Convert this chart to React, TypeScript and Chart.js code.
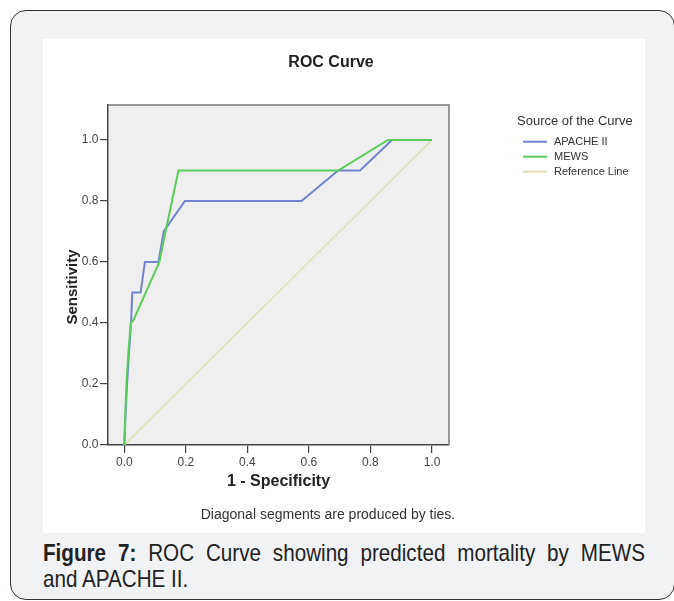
import React, { useEffect, useRef } from "react";
import { Chart, registerables } from "chart.js";

Chart.register(...registerables);

const chartTitle = "ROC Curve";
const legendTitle = "Source of the Curve";
const footnote = "Diagonal segments are produced by ties.";
const xAxisTitle = "1 - Specificity";
const yAxisTitle = "Sensitivity";
const tickValues = [0, 0.2, 0.4, 0.6, 0.8, 1.0];
const seriesNames = ["APACHE II", "MEWS", "Reference Line"];
const seriesColors = ["#7285cc", "#5ccc5c", "#e1dfb3"];

const apacheFpr = [0, 0.004, 0.009, 0.015, 0.022, 0.026, 0.053, 0.067, 0.111, 0.128, 0.197, 0.576, 0.695, 0.766, 0.870, 1.0];
const apacheTpr = [0, 0.1, 0.2, 0.3, 0.4, 0.5, 0.5, 0.6, 0.6, 0.7, 0.8, 0.8, 0.9, 0.9, 1.0, 1.0];
const mewsFpr = [0, 0.003, 0.007, 0.013, 0.021, 0.03, 0.114, 0.134, 0.176, 0.695, 0.857, 1.0];
const mewsTpr = [0, 0.1, 0.2, 0.3, 0.4, 0.41, 0.6, 0.7, 0.9, 0.9, 1.0, 1.0];
const refFpr = [0, 1];
const refTpr = [0, 1];

const FONT = '"Liberation Sans", Arial, Helvetica, sans-serif';

const pts = (xs: number[], ys: number[]) => xs.map((x, i) => ({ x, y: ys[i] }));

const decor = {
  id: "decor",
  beforeDraw(chart: any) {
    const { ctx, chartArea: a } = chart;
    ctx.save();
    ctx.fillStyle = "#efefef";
    ctx.fillRect(a.left, a.top, a.right - a.left, a.bottom - a.top);
    ctx.restore();
  },
  beforeDatasetsDraw(chart: any) {
    const { ctx, chartArea: a } = chart;
    ctx.save();
    ctx.strokeStyle = "#7a7a7a";
    ctx.lineWidth = 1.5;
    ctx.beginPath();
    ctx.moveTo(a.left, a.top);
    ctx.lineTo(a.right, a.top);
    ctx.lineTo(a.right, a.bottom);
    ctx.stroke();
    ctx.restore();
  },
  afterDraw(chart: any) {
    const { ctx } = chart;
    ctx.save();
    ctx.fillStyle = "#222";
    ctx.textBaseline = "middle";
    // title
    ctx.font = `bold 16px ${FONT}`;
    ctx.textAlign = "center";
    ctx.fillText(chartTitle, 288, 24);
    // y axis title
    ctx.save();
    ctx.translate(30, 248);
    ctx.rotate(-Math.PI / 2);
    ctx.font = `bold 15px ${FONT}`;
    ctx.fillText(yAxisTitle, 0, 0);
    ctx.restore();
    // footnote
    ctx.font = `14px ${FONT}`;
    ctx.fillStyle = "#333";
    ctx.fillText(footnote, 285, 476);
    // legend
    ctx.textAlign = "left";
    ctx.font = `13px ${FONT}`;
    ctx.fillStyle = "#333";
    ctx.fillText(legendTitle, 474, 82);
    ctx.font = `11px ${FONT}`;
    chart.data.datasets.forEach((ds: any, i: number) => {
      const y = 102.7 + i * 15;
      ctx.strokeStyle = ds.borderColor;
      ctx.lineWidth = 2;
      ctx.beginPath();
      ctx.moveTo(480, y);
      ctx.lineTo(504, y);
      ctx.stroke();
      ctx.fillStyle = "#333";
      ctx.fillText(ds.label, 511, y + 0.5);
    });
    ctx.restore();
  },
};

export default function App() {
  const ref = useRef<HTMLCanvasElement>(null);
  useEffect(() => {
    const setTicks = (scale: any) => {
      scale.ticks = tickValues.map((v) => ({ value: v }));
    };
    const chart = new Chart(ref.current as HTMLCanvasElement, {
      type: "line",
      data: {
        datasets: [
          {
            label: seriesNames[0],
            data: pts(apacheFpr, apacheTpr),
            borderColor: seriesColors[0],
            borderWidth: 2,
            pointRadius: 0,
            tension: 0,
            order: 2,
          },
          {
            label: seriesNames[1],
            data: pts(mewsFpr, mewsTpr),
            borderColor: seriesColors[1],
            borderWidth: 2,
            pointRadius: 0,
            tension: 0,
            order: 1,
          },
          {
            label: seriesNames[2],
            data: pts(refFpr, refTpr),
            borderColor: seriesColors[2],
            borderWidth: 1.5,
            pointRadius: 0,
            tension: 0,
            order: 3,
          },
        ],
      },
      options: {
        responsive: false,
        animation: false,
        layout: { padding: { left: 17, top: 66, right: 196, bottom: 37.7 } },
        plugins: {
          legend: { display: false },
          title: { display: false },
          tooltip: { enabled: false },
        },
        scales: {
          x: {
            type: "linear",
            min: -0.053,
            max: 1.0553,
            afterBuildTicks: setTicks,
            afterFit: (s: any) => {
              s.height = 50.3;
            },
            grid: { drawOnChartArea: false, drawTicks: true, tickLength: 8, color: "#444", lineWidth: 1.2 },
            border: { display: true, color: "#444", width: 1.5 },
            ticks: {
              padding: 2,
              color: "#444",
              font: { family: FONT, size: 12 },
              callback: (v: any) => Number(v).toFixed(1),
            },
            title: {
              display: true,
              text: xAxisTitle,
              color: "#222",
              font: { family: FONT, size: 16, weight: "bold" },
            },
          },
          y: {
            type: "linear",
            min: 0,
            max: 1.1148,
            afterBuildTicks: setTicks,
            afterFit: (s: any) => {
              s.width = 48;
            },
            grid: { drawOnChartArea: false, drawTicks: true, tickLength: 8, color: "#444", lineWidth: 1.2 },
            border: { display: true, color: "#444", width: 1.5 },
            ticks: {
              padding: 1.5,
              color: "#444",
              font: { family: FONT, size: 12 },
              callback: (v: any) => Number(v).toFixed(1),
            },
            title: { display: false },
          },
        },
      },
      plugins: [decor],
    } as any);
    return () => chart.destroy();
  }, []);

  const capStyle: React.CSSProperties = {
    position: "absolute",
    left: 43,
    width: 700,
    transform: "scaleX(0.86)",
    transformOrigin: "0 0",
    fontSize: 24,
    lineHeight: "26px",
    color: "#222",
    whiteSpace: "nowrap",
  };

  return (
    <div
      style={{
        position: "fixed",
        left: 0,
        top: 0,
        width: 674,
        height: 601,
        background: "#fff",
        overflow: "hidden",
        fontFamily: FONT,
      }}
    >
      <div
        style={{
          position: "absolute",
          left: 10,
          top: 10,
          width: 665,
          height: 590,
          boxSizing: "border-box",
          border: "1.5px solid #333",
          borderRadius: 16,
          background: "#f1f2f4",
        }}
      />
      <div style={{ position: "absolute", left: 43, top: 39, width: 602, height: 494, background: "#fff" }}>
        <canvas ref={ref} width={602} height={494} style={{ display: "block" }} />
      </div>
      <div style={{ ...capStyle, top: 540, textAlign: "justify", textAlignLast: "justify" as any, whiteSpace: "normal" }}>
        <b>Figure 7:</b> ROC Curve showing predicted mortality by MEWS
      </div>
      <div style={{ ...capStyle, top: 566 }}>and APACHE II.</div>
    </div>
  );
}
